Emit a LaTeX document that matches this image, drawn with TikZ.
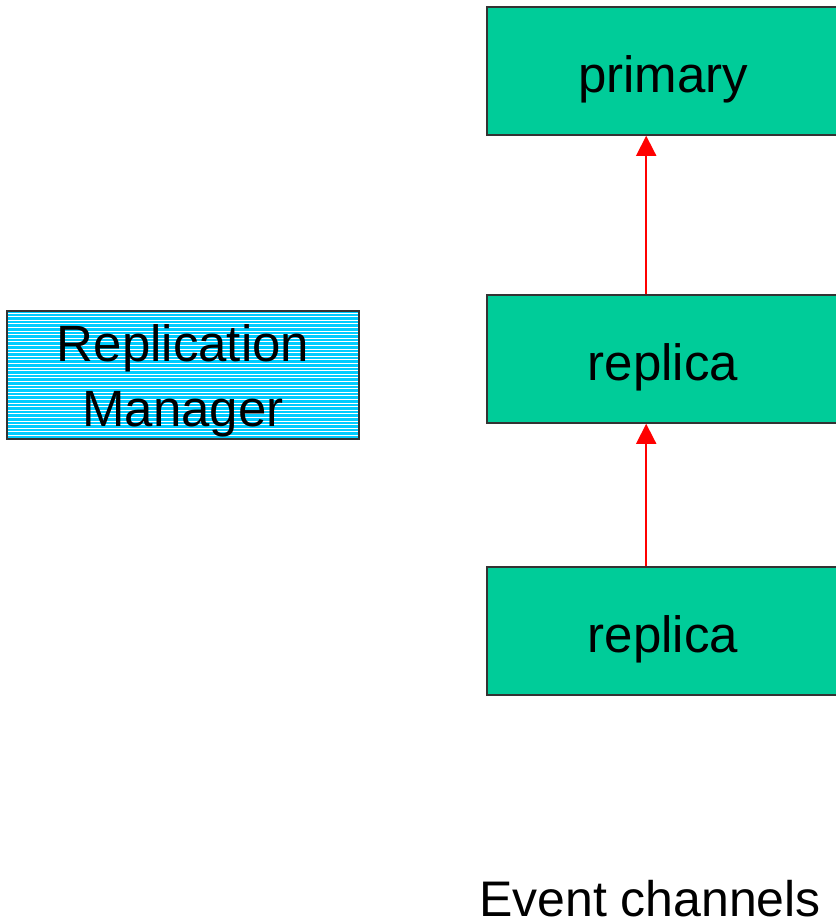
\documentclass[tikz,border=0pt]{standalone}
\usepackage{fontspec}
\setmainfont{Liberation Sans}
\usetikzlibrary{arrows.meta,calc}

\definecolor{chgreen}{HTML}{00CC99}
\definecolor{rmcyan}{HTML}{00CCFF}
\definecolor{edge}{HTML}{333333}

\tikzset{
  labelfont/.style={font=\fontsize{51}{65}\selectfont},
  chanbox/.style={draw=edge, line width=1.6pt, fill=chgreen, labelfont,
    minimum width=352pt, minimum height=128pt, inner sep=0pt,
    text height=42pt, text depth=0pt},
  mgrbox/.style={draw=edge, line width=1.6pt, fill=rmcyan,
    minimum width=352pt, minimum height=128pt, inner sep=0pt,
    path picture={
      \foreach \k in {0,...,40}
        \draw[white, line width=1pt]
          ([yshift=-\k*3.6pt-2pt]path picture bounding box.north west) --
          ([yshift=-\k*3.6pt-2pt]path picture bounding box.north east);
    }},
  push/.style={red, line width=1.8pt, -{Triangle[width=20pt,length=20pt]}}
}

\begin{document}
\begin{tikzpicture}[x=1pt, y=-1pt]
  \useasboundingbox (0,0) rectangle (836,922);

  % replication manager with striped fill
  \node[mgrbox] (rm) at (183,375) {};
  \node[labelfont, align=center, inner sep=0pt] (rmtext)
    at ($(rm.center)+(0,6)$) {Replication\\Manager};

  % chain of channel boxes
  \node[chanbox] (p)  at (663,71)  {primary};
  \node[chanbox] (r1) at (663,359) {replica};
  \node[chanbox] (r2) at (663,631) {replica};

  % forwarding arrows
  \draw[push] ($(r1.north west)+(160,0)$) -- ($(p.south west)+(160,0)$);
  \draw[push] ($(r2.north west)+(160,0)$) -- ($(r1.south west)+(160,0)$);

  % caption
  \node[font=\fontsize{50}{60}\selectfont, anchor=base, inner sep=0pt] (cap)
    at (650,916) {Event channels};
\end{tikzpicture}
\end{document}
